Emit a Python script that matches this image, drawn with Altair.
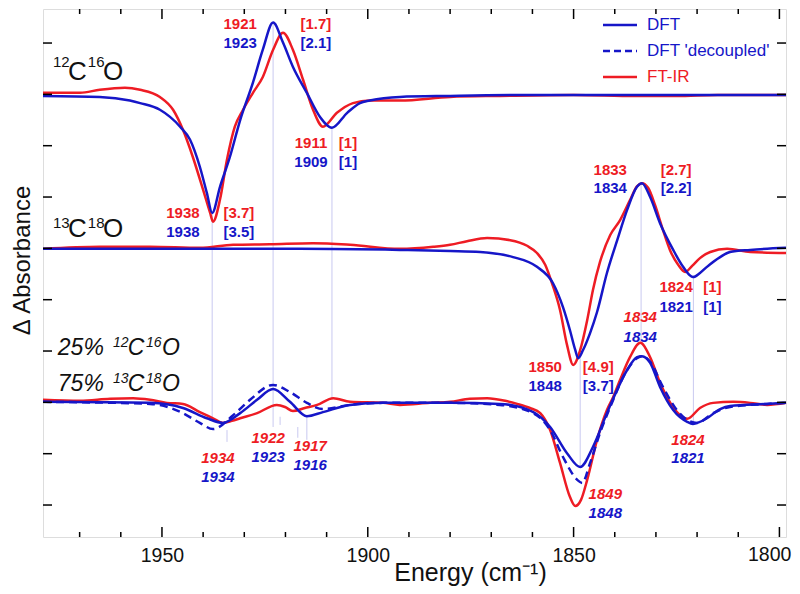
import altair as alt
import pandas as pd

FONT = "Liberation Sans"
RED = "#ee1c24"
BLUE = "#1616c8"
GUIDE = "#c9c9f0"
INK = "#111111"

# ---------------- spectra (x = energy cm-1, y = offset absorbance) ----------------
# 12C16O panel
top_dft_x = [1978.9, 1965.1, 1957.8, 1955.3, 1950.5, 1945.6, 1943.2, 1940.8, 1939.1, 1937.8, 1935.9, 1933.5,
             1931.0, 1927.9, 1925.5, 1923.0, 1920.6, 1918.2, 1914.8, 1911.6, 1908.7, 1905.0, 1901.9, 1899.5,
             1892.2, 1880.0, 1860.0, 1798.4]
top_dft_y = [7.97, 7.95, 7.88, 7.83, 7.70, 7.37, 7.12, 6.59, 6.08, 5.69, 6.20, 6.78,
             7.50, 8.23, 8.87, 9.40, 9.01, 8.54, 8.03, 7.56, 7.35, 7.64, 7.83, 7.88,
             7.95, 7.97, 7.99, 7.99]
top_ftir_x = [1978.9, 1969.9, 1965.1, 1959.0, 1955.3, 1950.5, 1947.3, 1944.9, 1942.5, 1940.0, 1938.3, 1937.6,
              1935.9, 1934.2, 1932.3, 1930.3, 1927.9, 1925.5, 1923.0, 1920.6, 1918.2, 1915.7, 1913.3, 1910.9,
              1907.5, 1903.6, 1899.5, 1892.2, 1880.0, 1867.9, 1850.0, 1835.0, 1825.0, 1815.0, 1798.4]
top_ftir_y = [8.03, 8.03, 8.09, 8.13, 8.09, 7.95, 7.70, 7.31, 6.78, 6.14, 5.69, 5.52,
              5.95, 6.73, 7.37, 7.70, 8.03, 8.34, 8.87, 9.20, 8.87, 8.28, 7.70, 7.37,
              7.64, 7.83, 7.88, 7.88, 7.95, 7.97, 7.99, 7.97, 7.97, 7.99, 7.99]

# 13C18O panel
mid_dft_x = [1978.9, 1916.5, 1892.2, 1880.0, 1872.7, 1864.7, 1858.9, 1855.0, 1852.6, 1850.9, 1849.6, 1848.9,
             1847.7, 1846.0, 1844.3, 1841.9, 1839.4, 1837.0, 1834.6, 1833.4, 1831.4, 1829.0, 1825.8, 1823.4,
             1821.0, 1819.3, 1817.6, 1814.4, 1812.0, 1807.1, 1798.4]
mid_dft_y = [4.99, 4.99, 4.97, 4.95, 4.93, 4.83, 4.64, 4.32, 3.86, 3.41, 3.02, 2.86,
             3.02, 3.35, 3.76, 4.52, 5.16, 5.75, 6.20, 6.27, 6.00, 5.49, 4.97, 4.64,
             4.44, 4.52, 4.64, 4.83, 4.93, 4.97, 5.01]
mid_ftir_x = [1978.9, 1965.1, 1952.9, 1940.8, 1932.7, 1923.8, 1913.3, 1904.3, 1892.2, 1884.1, 1880.0, 1875.9,
              1871.0, 1865.4, 1861.3, 1858.9, 1856.9, 1855.2, 1853.3, 1851.6, 1850.1, 1848.4, 1846.7, 1845.3,
              1843.6, 1841.1, 1838.7, 1836.3, 1834.6, 1833.4, 1831.9, 1830.2, 1828.3, 1826.6, 1824.6, 1822.9,
              1821.2, 1819.3, 1816.8, 1812.7, 1807.1, 1798.4]
mid_ftir_y = [4.99, 5.03, 5.03, 5.01, 5.07, 5.08, 5.10, 5.07, 4.99, 5.03, 5.07, 5.14,
              5.20, 5.16, 5.05, 4.91, 4.68, 4.31, 3.80, 3.12, 2.73, 3.02, 3.60, 4.19,
              4.73, 5.26, 5.55, 5.94, 6.21, 6.27, 6.18, 5.84, 5.36, 4.97, 4.68, 4.54,
              4.66, 4.81, 4.93, 4.99, 4.93, 4.91]

# 25% 12C16O / 75% 13C18O panel
mix_dft_x = [1978.9, 1952.9, 1944.9, 1939.1, 1935.2, 1931.0, 1926.9, 1923.0, 1918.9, 1914.8, 1910.9, 1904.3,
             1896.3, 1880.0, 1867.9, 1859.8, 1855.7, 1851.6, 1848.4, 1845.3, 1841.9, 1840.4, 1837.0, 1834.6,
             1833.4, 1831.4, 1829.0, 1825.8, 1822.4, 1821.0, 1817.6, 1814.4, 1812.0, 1803.0, 1798.4]
mix_dft_y = [2.01, 1.99, 1.89, 1.69, 1.60, 1.79, 2.05, 2.26, 2.01, 1.73, 1.81, 1.95,
             1.99, 1.99, 1.97, 1.81, 1.52, 1.01, 0.74, 1.13, 1.79, 2.07, 2.63, 2.88,
             2.90, 2.77, 2.30, 1.85, 1.62, 1.58, 1.69, 1.87, 1.93, 1.97, 1.99]
mix_dec_x = [1978.9, 1952.9, 1944.9, 1940.8, 1937.6, 1932.7, 1928.6, 1923.0, 1918.9, 1914.8, 1910.9, 1904.3,
             1896.3, 1880.0, 1867.9, 1859.8, 1855.7, 1852.6, 1849.1, 1847.9, 1846.0, 1843.6, 1841.1, 1837.0,
             1834.6, 1833.4, 1831.4, 1828.3, 1824.9, 1822.4, 1820.0, 1816.1, 1812.0, 1803.0, 1798.4]
mix_dec_y = [2.01, 1.97, 1.79, 1.60, 1.48, 1.75, 2.05, 2.34, 2.20, 1.99, 1.87, 1.95,
             1.99, 1.99, 1.95, 1.79, 1.46, 0.94, 0.49, 0.43, 0.82, 1.40, 1.91, 2.63,
             2.86, 2.90, 2.79, 2.30, 1.85, 1.66, 1.60, 1.79, 1.91, 1.97, 1.99]
mix_ftir_x = [1978.9, 1969.9, 1962.6, 1957.0, 1952.9, 1948.8, 1944.9, 1940.8, 1937.6, 1935.2, 1933.0, 1931.0,
              1926.9, 1922.1, 1920.1, 1918.2, 1915.3, 1912.3, 1908.4, 1904.3, 1896.3, 1892.2, 1884.9, 1880.0,
              1875.2, 1871.0, 1866.6, 1863.7, 1860.6, 1858.1, 1855.7, 1853.3, 1850.9, 1849.6, 1848.2, 1846.7,
              1844.3, 1841.9, 1840.4, 1838.7, 1836.3, 1833.8, 1831.4, 1829.0, 1826.5, 1824.1, 1822.4, 1819.3,
              1816.1, 1811.2, 1807.1, 1803.0, 1798.4]
mix_ftir_y = [2.05, 2.03, 2.07, 2.08, 2.05, 1.99, 1.97, 1.81, 1.69, 1.60, 1.64, 1.69,
              1.79, 1.95, 1.91, 1.83, 1.89, 1.95, 2.08, 2.01, 1.99, 1.95, 1.99, 2.01,
              2.07, 2.08, 2.03, 1.97, 1.89, 1.79, 1.46, 0.82, 0.16, -0.02, 0.10, 0.49,
              1.27, 1.85, 2.10, 2.44, 2.88, 3.16, 2.88, 2.38, 1.99, 1.75, 1.68, 1.89,
              1.99, 2.01, 1.99, 1.95, 1.99]

# ---------------- thin guide lines ----------------
guide_x = [1937.8, 1923.0, 1908.7, 1848.4, 1833.6, 1820.9, 1934.2, 1921.3, 1917.0, 1914.8]
guide_y1 = [5.69, 9.40, 7.35, 2.86, 6.27, 4.44, 1.46, 1.72, 1.52, 1.75]
guide_y2 = [1.66, 1.52, 2.05, 0.74, 3.16, 1.58, 1.23, 1.56, 1.31, 1.27]

# ---------------- peak labels ----------------
lab_text = ["1921", "[1.7]", "1923", "[2.1]", "1911", "[1]", "1909", "[1]",
            "1938", "[3.7]", "1938", "[3.5]",
            "1833", "[2.7]", "1834", "[2.2]", "1850", "[4.9]", "1848", "[3.7]",
            "1824", "[1]", "1821", "[1]"]
lab_x = [1931.0, 1912.6, 1931.0, 1912.6, 1913.8, 1904.8, 1913.8, 1904.8,
         1944.9, 1931.3, 1944.9, 1931.3,
         1841.1, 1825.1, 1841.1, 1825.1, 1856.9, 1844.0, 1856.9, 1844.0,
         1825.1, 1816.3, 1825.1, 1816.3]
lab_y = [9.37, 9.37, 9.00, 9.00, 7.05, 7.05, 6.68, 6.68,
         5.69, 5.69, 5.32, 5.32,
         6.53, 6.53, 6.18, 6.18, 2.69, 2.69, 2.32, 2.32,
         4.25, 4.25, 3.86, 3.86]
lab_color = [RED, RED, BLUE, BLUE, RED, RED, BLUE, BLUE,
             RED, RED, BLUE, BLUE,
             RED, RED, BLUE, BLUE, RED, RED, BLUE, BLUE,
             RED, RED, BLUE, BLUE]

ital_text = ["1834", "1834", "1849", "1848", "1824", "1821", "1934", "1934", "1922", "1923", "1917", "1916"]
ital_x = [1833.8, 1833.8, 1842.3, 1842.3, 1822.2, 1822.2, 1936.4, 1936.4, 1924.2, 1924.2, 1914.0, 1914.0]
ital_y = [3.66, 3.27, 0.21, -0.16, 1.27, 0.92, 0.92, 0.55, 1.31, 0.94, 1.15, 0.78]
ital_color = [RED, BLUE, RED, BLUE, RED, BLUE, RED, BLUE, RED, BLUE, RED, BLUE]

# isotope names (main glyphs and superscripts)
iso_text = ["C", "O", "C", "O"]
iso_x = [1972.8, 1964.3, 1972.8, 1964.3]
iso_y = [8.28, 8.28, 5.22, 5.22]
iso_sup_text = ["12", "16", "13", "18"]
iso_sup_x = [1976.5, 1968.0, 1976.5, 1968.0]
iso_sup_y = [8.53, 8.53, 5.40, 5.40]

mixn_text = ["25%", "C", "O", "75%", "C", "O"]
mixn_x = [1975.3, 1958.3, 1950.0, 1975.3, 1958.3, 1950.0]
mixn_y = [2.92, 2.92, 2.92, 2.22, 2.22, 2.22]
mixn_sup_text = ["12", "16", "13", "18"]
mixn_sup_x = [1961.9, 1953.9, 1961.9, 1953.9]
mixn_sup_y = [3.08, 3.08, 2.38, 2.38]

x_major = [1800, 1850, 1900, 1950]
x_minor = [1810, 1820, 1830, 1840, 1860, 1870, 1880, 1890, 1910, 1920, 1930, 1940, 1960, 1970]
y_ticks = [0, 1, 2, 3, 4, 5, 6, 7, 8, 9]
edge_label = [1800]  # last tick label, drawn flush with the right edge of the page

legend_labels = ["DFT", "DFT 'decoupled'", "FT-IR"]

# ---------------- build ----------------
W, H = 743, 528
xs = alt.Scale(domain=[1798.4, 1978.9], reverse=True, nice=False, zero=False)
ys = alt.Scale(domain=[-0.623, 9.663], nice=False, zero=False)

xaxis = alt.Axis(values=x_major, format="d", labelFont=FONT, labelFontSize=19.5, labelColor=INK,
                 labelExpr="datum.value == 1800 ? '' : datum.label",
                 labelPadding=9, ticks=False, tickSize=0, domain=False, grid=False,
                 title="Energy (cm⁻¹)", titleFont=FONT, titleFontSize=25, titleFontWeight="normal",
                 titleColor=INK, titleX=427, titleY=43, titleBaseline="alphabetic", titleAlign="center")
yaxis = alt.Axis(labels=False, ticks=False, domain=False, grid=False,
                 title="Δ Absorbance", titleFont=FONT, titleFontSize=24, titleFontWeight="normal",
                 titleColor=INK, titleX=-14, titleY=251, titleAngle=270, titleBaseline="alphabetic",
                 titleAlign="center")

X = alt.X("x:Q", scale=xs, axis=xaxis)
Y = alt.Y("y:Q", scale=ys, axis=yaxis)


def frame(xv, yv, name):
    return pd.DataFrame({"x": xv, "y": yv, "trace": name})


red_df = pd.concat([frame(top_ftir_x, top_ftir_y, "top"), frame(mid_ftir_x, mid_ftir_y, "mid"),
                    frame(mix_ftir_x, mix_ftir_y, "mix")])
blue_df = pd.concat([frame(top_dft_x, top_dft_y, "top"), frame(mid_dft_x, mid_dft_y, "mid"),
                     frame(mix_dft_x, mix_dft_y, "mix")])
dash_df = frame(mix_dec_x, mix_dec_y, "mixdec")

guides = alt.Chart(pd.DataFrame({"x": guide_x, "y": guide_y1, "y2": guide_y2})).mark_rule(
    color=GUIDE, strokeWidth=1).encode(x=X, y=Y, y2="y2:Q")

red_lines = alt.Chart(red_df).mark_line(color=RED, strokeWidth=2.5, interpolate="monotone",
                                        strokeJoin="round").encode(x=X, y=Y, detail="trace:N")
dash_lines = alt.Chart(dash_df).mark_line(color=BLUE, strokeWidth=2.5, interpolate="monotone",
                                          strokeDash=[8, 5]).encode(x=X, y=Y, detail="trace:N")
blue_lines = alt.Chart(blue_df).mark_line(color=BLUE, strokeWidth=2.5, interpolate="monotone",
                                          strokeJoin="round").encode(x=X, y=Y, detail="trace:N")

maj = pd.DataFrame({"x": x_major})
mnr = pd.DataFrame({"x": x_minor})
yt = pd.DataFrame({"y": y_ticks})
tick_style = dict(color="black", strokeWidth=1.5)
ticks = [
    alt.Chart(maj).mark_rule(**tick_style).encode(x=X, y=alt.value(H), y2=alt.value(H - 10)),
    alt.Chart(mnr).mark_rule(**tick_style).encode(x=X, y=alt.value(H), y2=alt.value(H - 5)),
    alt.Chart(maj).mark_rule(**tick_style).encode(x=X, y=alt.value(0), y2=alt.value(10)),
    alt.Chart(mnr).mark_rule(**tick_style).encode(x=X, y=alt.value(0), y2=alt.value(5)),
    alt.Chart(yt).mark_rule(**tick_style).encode(y=Y, x=alt.value(0), x2=alt.value(9)),
    alt.Chart(yt).mark_rule(**tick_style).encode(y=Y, x=alt.value(W), x2=alt.value(W - 9)),
]

edge_lab = alt.Chart(pd.DataFrame({"x": edge_label, "t": [str(v) for v in edge_label]})).mark_text(
    font=FONT, fontSize=19.5, align="right", baseline="top", dx=12, dy=9, color=INK).encode(
    x=X, y=alt.value(H), text="t:N")

labels = alt.Chart(pd.DataFrame({"x": lab_x, "y": lab_y, "t": lab_text, "c": lab_color})).mark_text(
    font=FONT, fontSize=15, fontWeight="bold", align="center", baseline="middle").encode(
    x=X, y=Y, text="t:N", color=alt.Color("c:N", scale=None))
ital = alt.Chart(pd.DataFrame({"x": ital_x, "y": ital_y, "t": ital_text, "c": ital_color})).mark_text(
    font=FONT, fontSize=15, fontWeight="bold", fontStyle="italic", align="center", baseline="middle").encode(
    x=X, y=Y, text="t:N", color=alt.Color("c:N", scale=None))

iso = alt.Chart(pd.DataFrame({"x": iso_x, "y": iso_y, "t": iso_text})).mark_text(
    font=FONT, fontSize=26, align="left", baseline="alphabetic", color=INK).encode(x=X, y=Y, text="t:N")
iso_sup = alt.Chart(pd.DataFrame({"x": iso_sup_x, "y": iso_sup_y, "t": iso_sup_text})).mark_text(
    font=FONT, fontSize=15, align="left", baseline="alphabetic", color=INK).encode(x=X, y=Y, text="t:N")
mixn = alt.Chart(pd.DataFrame({"x": mixn_x, "y": mixn_y, "t": mixn_text})).mark_text(
    font=FONT, fontSize=23, fontStyle="italic", align="left", baseline="alphabetic", color=INK).encode(
    x=X, y=Y, text="t:N")
mixn_sup = alt.Chart(pd.DataFrame({"x": mixn_sup_x, "y": mixn_sup_y, "t": mixn_sup_text})).mark_text(
    font=FONT, fontSize=14, fontStyle="italic", align="left", baseline="alphabetic", color=INK).encode(
    x=X, y=Y, text="t:N")

one = pd.DataFrame({"k": [0]})
leg_rows = [16, 42, 68]
leg_cols = [BLUE, BLUE, RED]
legend = []
for i, (lab, col) in enumerate(zip(legend_labels, leg_cols)):
    rule_kw = dict(color=col, strokeWidth=2.5)
    if i == 1:
        rule_kw["strokeDash"] = [7, 4]
    legend.append(alt.Chart(one).mark_rule(**rule_kw).encode(
        x=alt.value(560), x2=alt.value(594), y=alt.value(leg_rows[i])))
    legend.append(alt.Chart(one).mark_text(text=lab, font=FONT, fontSize=17, align="left",
                                           baseline="middle", color=col).encode(
        x=alt.value(604), y=alt.value(leg_rows[i])))

chart = alt.layer(guides, red_lines, dash_lines, blue_lines, *ticks, edge_lab, labels, ital, iso, iso_sup,
                  mixn, mixn_sup, *legend).properties(
    width=W, height=H,
    padding={"left": 35, "top": 1, "right": 6, "bottom": 49},
    autosize=alt.AutoSizeParams(type="none"),
).configure_view(stroke="black", strokeWidth=2).configure(background="white")

chart.save("out.html", embed_options={"renderer": "svg", "actions": False})
